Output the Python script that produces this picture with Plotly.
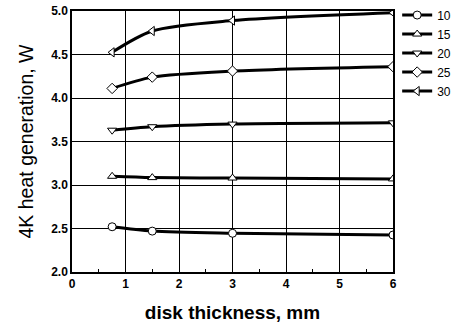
import plotly.graph_objects as go

thickness = [0.75, 1.5, 3, 6]
series_names = ["10", "15", "20", "25", "30"]
s10 = [2.52, 2.47, 2.445, 2.425]
s15 = [3.10, 3.085, 3.08, 3.07]
s20 = [3.63, 3.67, 3.70, 3.715]
s25 = [4.11, 4.24, 4.31, 4.36]
s30 = [4.525, 4.77, 4.89, 4.98]
symbols = ["circle", "triangle-up", "triangle-down", "diamond", "triangle-left"]

fig = go.Figure()
for name, vals, sym in zip(series_names, [s10, s15, s20, s25, s30], symbols):
    fig.add_trace(go.Scatter(
        x=thickness, y=vals, name=name, mode="lines+markers",
        line=dict(color="black", width=3, shape="spline", smoothing=0.8),
        marker=dict(symbol=sym, size=8, color="white",
                    line=dict(color="black", width=1)),
        cliponaxis=True,
    ))

fig.update_layout(
    width=455, height=324,
    margin=dict(l=72, r=62, t=11, b=52, autoexpand=False),
    paper_bgcolor="white", plot_bgcolor="white",
    font=dict(family="Arial", color="black"),
    showlegend=True,
    legend=dict(x=1.013, y=1.04, xanchor="left", yanchor="top",
                font=dict(size=12, family="Arial"), tracegroupgap=0,
                itemwidth=30, bgcolor="rgba(0,0,0,0)"),
)
fig.update_xaxes(
    range=[0, 6], dtick=1, tick0=0,
    showgrid=True, gridcolor="black", gridwidth=1,
    showline=True, linecolor="black", linewidth=1.5, mirror=True,
    ticks="inside", ticklen=4, tickcolor="black",
    minor=dict(dtick=0.5, ticks="inside", ticklen=3, tickcolor="black", showgrid=False),
    tickfont=dict(size=12, family="Arial", weight="bold"),
    title=dict(text="disk thickness, mm", font=dict(size=19, family="Arial", weight="bold"), standoff=16),
    zeroline=False,
)
fig.update_yaxes(
    range=[2.0, 5.0], dtick=0.5, tickformat=".1f",
    showgrid=True, gridcolor="black", gridwidth=1,
    showline=True, linecolor="black", linewidth=1.5, mirror=True,
    ticks="inside", ticklen=4, tickcolor="black",
    tickfont=dict(size=12, family="Arial", weight="bold"),
    title=dict(text="4K heat generation, W", font=dict(size=19.5, family="Arial"), standoff=12),
    zeroline=False,
)
fig.write_html("out.html", config={"displayModeBar": False},
               post_script="document.body.style.margin='0';")
